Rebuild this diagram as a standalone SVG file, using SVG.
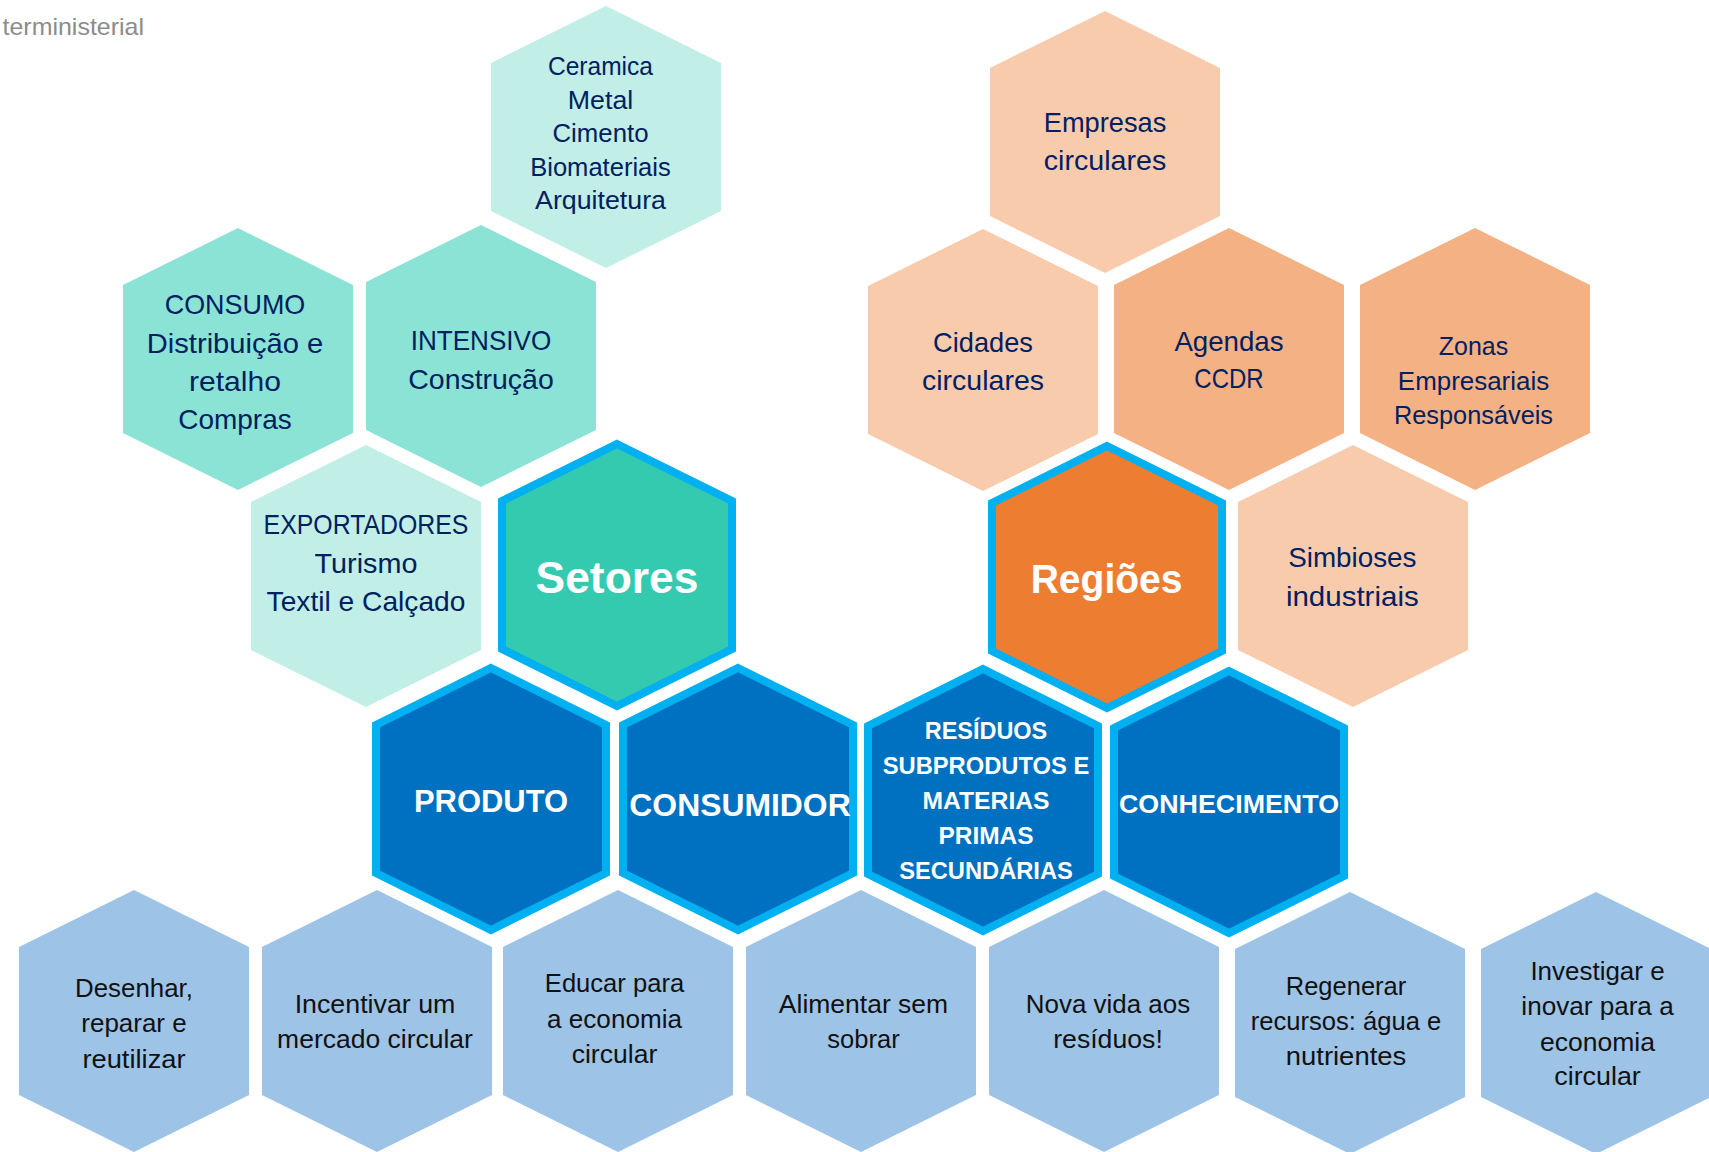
<svg xmlns="http://www.w3.org/2000/svg" xmlns:xlink="http://www.w3.org/1999/xlink" width="1709" height="1152" viewBox="0 0 1709 1152">
<style>
  text { font-family: "Liberation Sans", Arial, sans-serif; text-anchor: middle; }
  .mint-l { fill: #C1EEE6; }
  .mint { fill: #8BE3D5; }
  .setor { fill: #33CAB0; stroke: #00B0F0; stroke-width: 8; }
  .peach-l { fill: #F8CBAD; }
  .peach { fill: #F4B183; }
  .regiao { fill: #ED7D31; stroke: #00B0F0; stroke-width: 8; }
  .axis { fill: #0070C0; stroke: #00B0F0; stroke-width: 8; }
  .action { fill: #9DC3E6; }
  .t { fill: #002060; }
  .tb { fill: #111111; }
  .w { fill: #FFFFFF; font-weight: bold; }
  .gray { fill: #8C8C8C; text-anchor: start; }
</style>
<defs>
  <polygon id="hex" points="0,-131 115,-74 115,74 0,131 -115,74 -115,-74"/>
</defs>
<rect width="1709" height="1152" fill="#FFFFFF"/>
<text class="gray" x="2.5" y="35" font-size="24" textLength="141.5" lengthAdjust="spacingAndGlyphs">terministerial</text>

<g id="connectors"/>

<!-- Setores cluster -->
<g id="node-ceramica">
  <use href="#hex" x="606" y="137" class="mint-l"/>
  <g class="t" font-size="25.5">
    <text x="600.5" y="75" textLength="105" lengthAdjust="spacingAndGlyphs">Ceramica</text>
    <text x="600.5" y="108.5" textLength="65.4" lengthAdjust="spacingAndGlyphs">Metal</text>
    <text x="600.5" y="142" textLength="96" lengthAdjust="spacingAndGlyphs">Cimento</text>
    <text x="600.5" y="175.5" textLength="140.6" lengthAdjust="spacingAndGlyphs">Biomateriais</text>
    <text x="600.5" y="209" textLength="130.9" lengthAdjust="spacingAndGlyphs">Arquitetura</text>
  </g>
</g>
<g id="node-consumo">
  <use href="#hex" x="238" y="359" class="mint"/>
  <g class="t" font-size="28.5">
    <text x="235" y="314" textLength="140.6" lengthAdjust="spacingAndGlyphs">CONSUMO</text>
    <text x="235" y="352.5" textLength="176.4" lengthAdjust="spacingAndGlyphs">Distribuição e</text>
    <text x="235" y="391" textLength="92" lengthAdjust="spacingAndGlyphs">retalho</text>
    <text x="235" y="429" textLength="113.4" lengthAdjust="spacingAndGlyphs">Compras</text>
  </g>
</g>
<g id="node-intensivo">
  <use href="#hex" x="481" y="356" class="mint"/>
  <g class="t" font-size="28.5">
    <text x="481" y="350" textLength="140.6" lengthAdjust="spacingAndGlyphs">INTENSIVO</text>
    <text x="481" y="388.5" textLength="145.4" lengthAdjust="spacingAndGlyphs">Construção</text>
  </g>
</g>
<g id="node-exportadores">
  <use href="#hex" x="366" y="576" class="mint-l"/>
  <g class="t" font-size="28.5">
    <text x="366" y="534.3" textLength="204.8" lengthAdjust="spacingAndGlyphs">EXPORTADORES</text>
    <text x="366" y="572.7" textLength="102.8" lengthAdjust="spacingAndGlyphs">Turismo</text>
    <text x="366" y="610.5" textLength="198.9" lengthAdjust="spacingAndGlyphs">Textil e Calçado</text>
  </g>
</g>
<g id="node-setores">
  <use href="#hex" x="617" y="575" class="setor"/>
  <text class="w" x="617" y="593.3" font-size="44" textLength="162.9" lengthAdjust="spacingAndGlyphs">Setores</text>
</g>

<!-- Regiões cluster -->
<g id="node-empresas">
  <use href="#hex" x="1105" y="142" class="peach-l"/>
  <g class="t" font-size="28.5">
    <text x="1105" y="131.5" textLength="122.5" lengthAdjust="spacingAndGlyphs">Empresas</text>
    <text x="1105" y="170" textLength="122.5" lengthAdjust="spacingAndGlyphs">circulares</text>
  </g>
</g>
<g id="node-cidades">
  <use href="#hex" x="983" y="360" class="peach-l"/>
  <g class="t" font-size="28.5">
    <text x="983" y="351.7" textLength="99.8" lengthAdjust="spacingAndGlyphs">Cidades</text>
    <text x="983" y="390" textLength="122" lengthAdjust="spacingAndGlyphs">circulares</text>
  </g>
</g>
<g id="node-agendas">
  <use href="#hex" x="1229" y="359" class="peach"/>
  <g class="t" font-size="28.5">
    <text x="1229" y="350.7" textLength="109.2" lengthAdjust="spacingAndGlyphs">Agendas</text>
    <text x="1229" y="388.3" textLength="69.3" lengthAdjust="spacingAndGlyphs">CCDR</text>
  </g>
</g>
<g id="node-zonas">
  <use href="#hex" x="1475" y="359" class="peach"/>
  <g class="t" font-size="25.5">
    <text x="1473.5" y="355" textLength="69.3" lengthAdjust="spacingAndGlyphs">Zonas</text>
    <text x="1473.5" y="389.5" textLength="151.3" lengthAdjust="spacingAndGlyphs">Empresariais</text>
    <text x="1473.5" y="424" textLength="159" lengthAdjust="spacingAndGlyphs">Responsáveis</text>
  </g>
</g>
<g id="node-regioes">
  <use href="#hex" x="1107" y="577" class="regiao"/>
  <text class="w" x="1106.6" y="592.7" font-size="40" textLength="151.9" lengthAdjust="spacingAndGlyphs">Regiões</text>
</g>
<g id="node-simbioses">
  <use href="#hex" x="1353" y="576" class="peach-l"/>
  <g class="t" font-size="28.5">
    <text x="1352.3" y="567.3" textLength="128.2" lengthAdjust="spacingAndGlyphs">Simbioses</text>
    <text x="1352.3" y="605.7" textLength="132.8" lengthAdjust="spacingAndGlyphs">industriais</text>
  </g>
</g>

<!-- Eixos -->
<g id="node-produto">
  <use href="#hex" x="491" y="799" class="axis"/>
  <text class="w" x="491" y="811.7" font-size="31" textLength="154.2" lengthAdjust="spacingAndGlyphs">PRODUTO</text>
</g>
<g id="node-consumidor">
  <use href="#hex" x="738" y="799" class="axis"/>
  <text class="w" x="740" y="815.7" font-size="32" textLength="221.3" lengthAdjust="spacingAndGlyphs">CONSUMIDOR</text>
</g>
<g id="node-residuos">
  <use href="#hex" x="983" y="800" class="axis"/>
  <g class="w" font-size="24.5">
    <text x="986" y="739" textLength="122.5" lengthAdjust="spacingAndGlyphs">RESÍDUOS</text>
    <text x="986" y="774" textLength="206.7" lengthAdjust="spacingAndGlyphs">SUBPRODUTOS E</text>
    <text x="986" y="809" textLength="127" lengthAdjust="spacingAndGlyphs">MATERIAS</text>
    <text x="986" y="844" textLength="95" lengthAdjust="spacingAndGlyphs">PRIMAS</text>
    <text x="986" y="879" textLength="173.7" lengthAdjust="spacingAndGlyphs">SECUNDÁRIAS</text>
  </g>
</g>
<g id="node-conhecimento">
  <use href="#hex" x="1229" y="802" class="axis"/>
  <text class="w" x="1229" y="812.7" font-size="26.5" textLength="220" lengthAdjust="spacingAndGlyphs">CONHECIMENTO</text>
</g>

<!-- Ações -->
<g id="node-desenhar">
  <use href="#hex" x="134" y="1021" class="action"/>
  <g class="tb" font-size="26">
    <text x="134" y="997" textLength="117.9" lengthAdjust="spacingAndGlyphs">Desenhar,</text>
    <text x="134" y="1032" textLength="105.3" lengthAdjust="spacingAndGlyphs">reparar e</text>
    <text x="134" y="1067.5" textLength="103.1" lengthAdjust="spacingAndGlyphs">reutilizar</text>
  </g>
</g>
<g id="node-incentivar">
  <use href="#hex" x="377" y="1021" class="action"/>
  <g class="tb" font-size="26">
    <text x="375" y="1013.3" textLength="160.7" lengthAdjust="spacingAndGlyphs">Incentivar um</text>
    <text x="375" y="1048.3" textLength="195.8" lengthAdjust="spacingAndGlyphs">mercado circular</text>
  </g>
</g>
<g id="node-educar">
  <use href="#hex" x="618" y="1021" class="action"/>
  <g class="tb" font-size="26">
    <text x="614.5" y="992" textLength="139.3" lengthAdjust="spacingAndGlyphs">Educar para</text>
    <text x="614.5" y="1027.5" textLength="135" lengthAdjust="spacingAndGlyphs">a economia</text>
    <text x="614.5" y="1062.7" textLength="85.6" lengthAdjust="spacingAndGlyphs">circular</text>
  </g>
</g>
<g id="node-alimentar">
  <use href="#hex" x="861" y="1021" class="action"/>
  <g class="tb" font-size="26">
    <text x="863.5" y="1013.3" textLength="169.3" lengthAdjust="spacingAndGlyphs">Alimentar sem</text>
    <text x="863.5" y="1048.3" textLength="72.3" lengthAdjust="spacingAndGlyphs">sobrar</text>
  </g>
</g>
<g id="node-novavida">
  <use href="#hex" x="1104" y="1021" class="action"/>
  <g class="tb" font-size="26">
    <text x="1108" y="1013.3" textLength="164.3" lengthAdjust="spacingAndGlyphs">Nova vida aos</text>
    <text x="1108" y="1048.3" textLength="109.6" lengthAdjust="spacingAndGlyphs">resíduos!</text>
  </g>
</g>
<g id="node-regenerar">
  <use href="#hex" x="1350" y="1023" class="action"/>
  <g class="tb" font-size="26">
    <text x="1346" y="995" textLength="120.5" lengthAdjust="spacingAndGlyphs">Regenerar</text>
    <text x="1346" y="1030" textLength="190.6" lengthAdjust="spacingAndGlyphs">recursos: água e</text>
    <text x="1346" y="1065" textLength="120.5" lengthAdjust="spacingAndGlyphs">nutrientes</text>
  </g>
</g>
<g id="node-investigar">
  <use href="#hex" x="1596" y="1023" class="action"/>
  <g class="tb" font-size="26">
    <text x="1597.5" y="980" textLength="134.2" lengthAdjust="spacingAndGlyphs">Investigar e</text>
    <text x="1597.5" y="1015" textLength="152.3" lengthAdjust="spacingAndGlyphs">inovar para a</text>
    <text x="1597.5" y="1050.5" textLength="115" lengthAdjust="spacingAndGlyphs">economia</text>
    <text x="1597.5" y="1085" textLength="86.5" lengthAdjust="spacingAndGlyphs">circular</text>
  </g>
</g>
</svg>
